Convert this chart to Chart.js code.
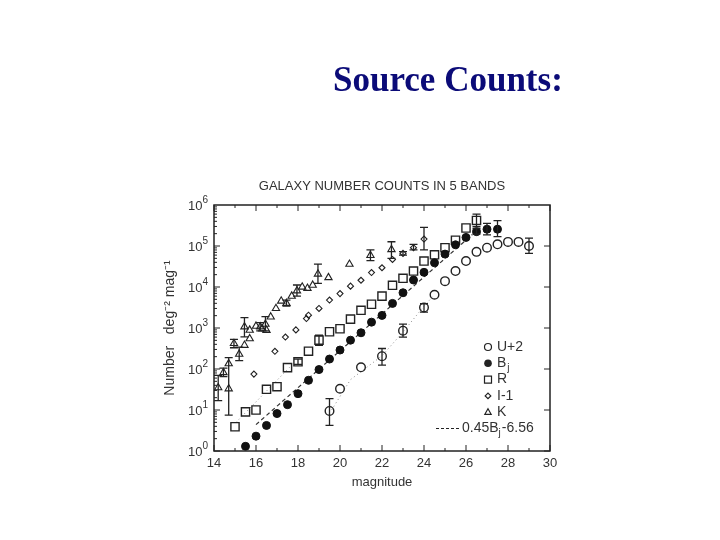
<!DOCTYPE html>
<html>
<head>
<meta charset="utf-8">
<script src="https://cdn.jsdelivr.net/npm/chart.js"></script>
<style>
  body { margin: 0; background: #fff; }
  #wrap { position: relative; width: 720px; height: 540px; }
  #heading {
    position: absolute; left: 333px; top: 62px; margin: 0;
    font: bold 35px/35px "Liberation Serif", "Times New Roman", serif;
    color: #0b0b78; white-space: nowrap;
  }
  canvas { position: absolute; left: 0; top: 0; }
</style>
</head>
<body>
<div id="wrap">
  <canvas id="countsChart" width="720" height="540"></canvas>
  <h1 id="heading">Source Counts:</h1>
</div>
<script>
// U+2 band (open circles)
const magU = [19.5, 20, 21, 22, 23, 24, 24.5, 25, 25.5, 26, 26.5, 27, 27.5, 28, 28.5, 29];
const countU = [9.5, 33, 110, 205, 860, 3170, 6480, 13900, 24500, 43000, 72000, 91000, 110000, 126000, 126000, 100000];
const errU = [[19.5, 4.2, 19], [22, 124, 316], [23, 600, 1240], [24, 2450, 3900], [29, 66000, 155000]];

// Bj band (filled circles)
const magBj = [15.5, 16, 16.5, 17, 17.5, 18, 18.5, 19, 19.5, 20, 20.5, 21, 21.5, 22, 22.5, 23, 23.5, 24, 24.5, 25, 25.5, 26, 26.5, 27, 27.5];
const countBj = [1.3, 2.3, 4.2, 8.2, 13.5, 25, 53, 97, 175, 290, 505, 765, 1390, 2030, 3980, 7240, 14800, 22800, 39000, 63500, 107000, 162000, 224000, 257000, 257000];
const errBj = [[26.5, 195000, 265000], [27, 186000, 355000], [27.5, 169000, 415000]];

// R band (open squares)
const magR = [15, 15.5, 16, 16.5, 17, 17.5, 18, 18.5, 19, 19.5, 20, 20.5, 21, 21.5, 22, 22.5, 23, 23.5, 24, 24.5, 25, 25.5, 26, 26.5];
const countR = [3.9, 9, 10, 32, 37, 108, 150, 272, 505, 810, 960, 1650, 2700, 3800, 6000, 11000, 16300, 24500, 43000, 61000, 91000, 138000, 275000, 420000];
const errR = [[18, 130, 175], [19, 380, 665], [26.5, 295000, 600000]];

// I-1 band (diamonds)
const magI = [15.9, 16.9, 17.4, 17.9, 18.4, 18.5, 19, 19.5, 20, 20.5, 21, 21.5, 22, 22.5, 23, 23.5, 24];
const countI = [75, 270, 600, 900, 1700, 2050, 3000, 4800, 6900, 10500, 14600, 22500, 29500, 47000, 66000, 91000, 148000];
const errI = [[23, 60000, 73000], [23.5, 80000, 110000], [24, 80000, 285000]];

// K band (triangles)
const magK = [14.2, 14.45, 14.7, 14.7, 14.95, 15.2, 15.45, 15.45, 15.7, 15.7, 16.0, 16.2, 16.3, 16.45, 16.5, 16.7, 16.95, 17.2, 17.45, 17.7, 17.95, 18.2, 18.45, 18.7, 18.95, 19.45, 20.45, 21.45, 22.45];
const countK = [35, 82, 135, 33, 420, 230, 380, 1070, 890, 550, 1110, 1070, 950, 1240, 880, 1870, 3000, 4550, 4000, 6000, 8100, 10000, 9300, 11100, 20700, 17000, 36000, 59000, 82000];
const errK = [[14.2, 17, 70], [14.45, 65, 105], [14.7, 7.5, 190], [14.95, 330, 530], [15.2, 160, 340], [15.45, 610, 1800],
              [16.2, 850, 1350], [16.45, 850, 1900], [17.45, 3400, 4800], [17.95, 6000, 11200], [18.95, 12300, 36000],
              [21.45, 44000, 80000], [22.45, 50000, 127000]];

// fitted line 0.45Bj-6.56 (endpoints) and the dotted guide lines
const magFit = [16, 26.3];
const countFit = [4.4, 190000];
const magDotR = [15.05, 17.6];
const countDotR = [5, 110];
const magDotU = [19.6, 20.5, 22, 23, 24, 24.5];
const countDotU = [10, 55, 210, 800, 3400, 6500];

const xTicks = [14, 16, 18, 20, 22, 24, 26, 28, 30];
const yTickExponents = ["0", "1", "2", "3", "4", "5", "6"];

const INK = "#222";
const TEXT = "#333";
const FONT = "'Liberation Sans', Arial, sans-serif";

function pts(xs, ys) {
  return xs.map((x, i) => ({ x: x, y: ys[i] }));
}

const errorSets = [errU, errBj, errR, errI, errK];

const errorBars = {
  id: "errorBars",
  afterDatasetsDraw(chart) {
    const ctx = chart.ctx, xs = chart.scales.x, ys = chart.scales.y;
    ctx.save();
    ctx.strokeStyle = INK;
    ctx.lineWidth = 1.3;
    errorSets.forEach(set => set.forEach(e => {
      const px = xs.getPixelForValue(e[0]);
      const lo = ys.getPixelForValue(e[1]);
      const hi = ys.getPixelForValue(e[2]);
      ctx.beginPath();
      ctx.moveTo(px, lo); ctx.lineTo(px, hi);
      ctx.moveTo(px - 4, lo); ctx.lineTo(px + 4, lo);
      ctx.moveTo(px - 4, hi); ctx.lineTo(px + 4, hi);
      ctx.stroke();
    }));
    ctx.restore();
  }
};

// box, inward ticks and the 10^n labels of the y axis
const frame = {
  id: "frame",
  afterDraw(chart) {
    const ctx = chart.ctx, a = chart.chartArea, xs = chart.scales.x, ys = chart.scales.y;
    ctx.save();
    ctx.strokeStyle = INK;
    ctx.lineWidth = 1.5;
    ctx.strokeRect(a.left, a.top, a.right - a.left, a.bottom - a.top);
    ctx.lineWidth = 1;
    ctx.beginPath();
    for (let v = xs.min; v <= xs.max; v++) {
      const px = xs.getPixelForValue(v);
      const len = v % 2 === 0 ? 6 : 3;
      ctx.moveTo(px, a.bottom); ctx.lineTo(px, a.bottom - len);
      ctx.moveTo(px, a.top); ctx.lineTo(px, a.top + len);
    }
    for (let d = 0; d < 6; d++) {
      for (let k = 1; k <= 9; k++) {
        const py = ys.getPixelForValue(k * Math.pow(10, d));
        const len = k === 1 ? 6 : 3;
        ctx.moveTo(a.left, py); ctx.lineTo(a.left + len, py);
        if (k === 1) { ctx.moveTo(a.right, py); ctx.lineTo(a.right - len, py); }
      }
    }
    ctx.stroke();

    ctx.fillStyle = TEXT;
    ctx.textBaseline = "middle";
    ctx.textAlign = "right";
    yTickExponents.forEach((ex, i) => {
      const py = ys.getPixelForValue(Math.pow(10, i));
      const xr = a.left - 6;
      ctx.font = "10px " + FONT;
      const we = ctx.measureText(ex).width;
      ctx.fillText(ex, xr, py - 5);
      ctx.font = "13px " + FONT;
      ctx.fillText("10", xr - we, py + 1);
    });
    ctx.restore();
  }
};

function marker(ctx, style, x, y, r) {
  ctx.beginPath();
  if (style === "circle") {
    ctx.arc(x, y, r, 0, Math.PI * 2);
  } else if (style === "rect") {
    ctx.rect(x - r, y - r, 2 * r, 2 * r);
  } else if (style === "rectRot") {
    ctx.moveTo(x - r, y); ctx.lineTo(x, y - r); ctx.lineTo(x + r, y); ctx.lineTo(x, y + r); ctx.closePath();
  } else {
    ctx.moveTo(x, y - r); ctx.lineTo(x + r * 0.9, y + r * 0.6); ctx.lineTo(x - r * 0.9, y + r * 0.6); ctx.closePath();
  }
}

const legendItems = [
  { style: "circle", fill: false, r: 3.5, label: "U+2" },
  { style: "circle", fill: true, r: 3.8, label: "B", sub: "j" },
  { style: "rect", fill: false, r: 3.5, label: "R" },
  { style: "rectRot", fill: false, r: 2.8, label: "I-1" },
  { style: "triangle", fill: false, r: 3.5, label: "K" }
];

const plotLegend = {
  id: "plotLegend",
  afterDraw(chart) {
    const ctx = chart.ctx, a = chart.chartArea;
    ctx.save();
    ctx.fillStyle = TEXT;
    ctx.strokeStyle = INK;
    ctx.lineWidth = 1.2;
    ctx.textBaseline = "middle";
    const mx = a.right - 62, tx = a.right - 53;
    legendItems.forEach((it, i) => {
      const y = a.bottom - 104 + i * 16.3;
      marker(ctx, it.style, mx, y, it.r);
      if (it.fill) { ctx.fillStyle = INK; ctx.fill(); } else { ctx.stroke(); }
      ctx.fillStyle = TEXT;
      ctx.font = "14px " + FONT;
      ctx.fillText(it.label, tx, y);
      if (it.sub) {
        const w = ctx.measureText(it.label).width;
        ctx.font = "10px " + FONT;
        ctx.fillText(it.sub, tx + w + 1, y + 5);
      }
    });
    const yl = a.bottom - 104 + 5 * 16.3;
    ctx.setLineDash([3, 2]);
    ctx.beginPath();
    ctx.moveTo(a.right - 114, yl); ctx.lineTo(a.right - 90, yl);
    ctx.stroke();
    ctx.setLineDash([]);
    let x = a.right - 88;
    const parts = [["0.45B", 14, 0], ["j", 10, 5], ["-6.56", 14, 0]];
    parts.forEach(p => {
      ctx.font = p[1] + "px " + FONT;
      ctx.fillText(p[0], x, yl + p[2]);
      x += ctx.measureText(p[0]).width + (p[1] === 10 ? 1 : 0);
    });
    ctx.restore();
  }
};

const ctx = document.getElementById("countsChart").getContext("2d");

new Chart(ctx, {
  type: "scatter",
  data: {
    datasets: [
      {
        label: "U+2", data: pts(magU, countU),
        pointStyle: "circle", pointRadius: 4.3, pointBorderWidth: 1.4,
        borderColor: INK, backgroundColor: "rgba(0,0,0,0)"
      },
      {
        label: "Bj", data: pts(magBj, countBj),
        pointStyle: "circle", pointRadius: 4, pointBorderWidth: 1,
        borderColor: "#111", backgroundColor: "#111"
      },
      {
        label: "R", data: pts(magR, countR),
        pointStyle: "rect", pointRadius: 5.8, pointBorderWidth: 1.4,
        borderColor: INK, backgroundColor: "rgba(0,0,0,0)"
      },
      {
        label: "I-1", data: pts(magI, countI),
        pointStyle: "rectRot", pointRadius: 3, pointBorderWidth: 1.1,
        borderColor: INK, backgroundColor: "rgba(0,0,0,0)"
      },
      {
        label: "K", data: pts(magK, countK),
        pointStyle: "triangle", pointRadius: 4.2, pointBorderWidth: 1.1,
        borderColor: INK, backgroundColor: "rgba(0,0,0,0)"
      },
      {
        label: "0.45Bj-6.56", data: pts(magFit, countFit),
        showLine: true, pointRadius: 0, borderColor: "#333", borderWidth: 1.2, borderDash: [4, 3]
      },
      {
        label: "R guide", data: pts(magDotR, countDotR),
        showLine: true, pointRadius: 0, borderColor: "#888", borderWidth: 1, borderDash: [1, 3]
      },
      {
        label: "U guide", data: pts(magDotU, countDotU),
        showLine: true, pointRadius: 0, borderColor: "#888", borderWidth: 1, borderDash: [1, 3]
      }
    ]
  },
  options: {
    responsive: false,
    animation: false,
    layout: { padding: { left: 158, right: 170, top: 179, bottom: 46 } },
    plugins: {
      legend: { display: false },
      tooltip: { enabled: false },
      title: {
        display: true, fullSize: false,
        text: "GALAXY NUMBER COUNTS IN 5 BANDS",
        color: TEXT, font: { family: FONT, size: 13, weight: "normal" },
        padding: { top: 0, bottom: 10.4 }
      }
    },
    scales: {
      x: {
        type: "linear", min: 14, max: 30,
        afterBuildTicks: s => { s.ticks = xTicks.map(v => ({ value: v })); },
        ticks: { color: TEXT, font: { family: FONT, size: 13 }, padding: 5 },
        grid: { display: false, drawTicks: false },
        border: { display: false },
        title: { display: true, text: "magnitude", color: TEXT, font: { family: FONT, size: 13 } },
        afterFit: s => { s.height = 43; }
      },
      y: {
        type: "logarithmic", min: 1, max: 1e6,
        ticks: { display: false },
        grid: { display: false, drawTicks: false },
        border: { display: false },
        title: { display: true, text: "Number   deg⁻² mag⁻¹", color: TEXT, font: { family: FONT, size: 14 } },
        afterFit: s => { s.width = 56; }
      }
    }
  },
  plugins: [errorBars, frame, plotLegend]
});
</script>
</body>
</html>
